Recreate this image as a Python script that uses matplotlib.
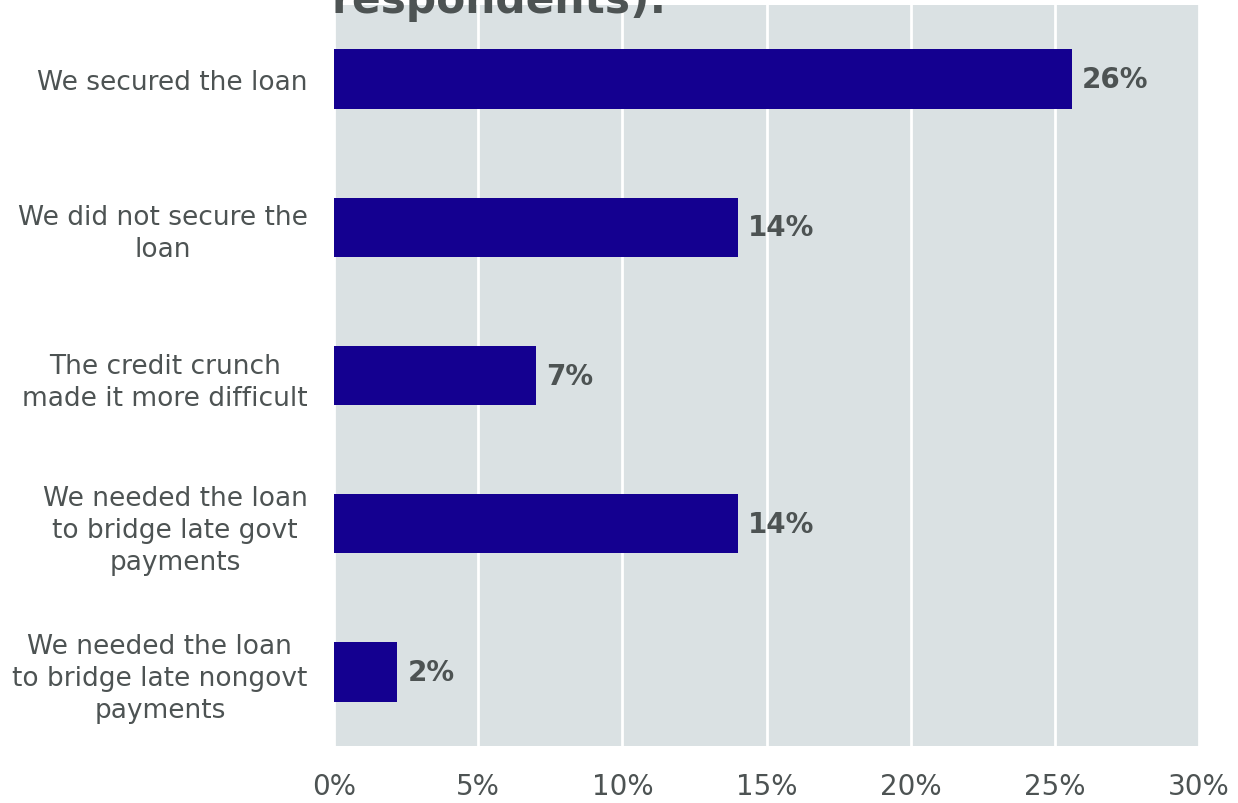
import matplotlib
matplotlib.use("Agg")
import matplotlib.pyplot as plt
from matplotlib.ticker import MultipleLocator, FuncFormatter

plt.rcParams["font.family"] = ["DejaVu Sans"]

categories = [
    "We secured the loan",
    "We did not secure the\nloan",
    "The credit crunch\nmade it more difficult",
    "We needed the loan\nto bridge late govt\npayments",
    "We needed the loan\nto bridge late nongovt\npayments",
]
shares = [25.6, 14.0, 7.0, 14.0, 2.2]

BAR = "#140090"
PANEL = "#dae1e3"
TEXT = "#4d5353"

fig = plt.figure(figsize=(12.38, 8.04), dpi=100)
ax = fig.add_axes([0.2698, 0.0709, 0.6987, 0.9216])
ax.set_facecolor(PANEL)

ypos = list(range(len(categories)))
ax.barh(ypos, shares, height=0.4, color=BAR, zorder=3)
for y, v in zip(ypos, shares):
    ax.text(v + 0.35, y, f"{v:.0f}%", va="center", ha="left",
            fontsize=20, fontweight="bold", color=TEXT, zorder=4)

ax.set_xlim(0, 30)
ax.set_ylim(len(categories) - 0.5, -0.5)
ax.xaxis.set_major_locator(MultipleLocator(5))
ax.xaxis.set_major_formatter(FuncFormatter(lambda x, _: f"{x:.0f}%"))
ax.grid(axis="x", color="white", linewidth=2, zorder=1)
ax.set_axisbelow(True)

ax.set_yticks(ypos)
ax.set_yticklabels(categories, multialignment="center", linespacing=1.3)
ax.tick_params(axis="y", length=0, pad=19, labelsize=19, labelcolor=TEXT)
ax.tick_params(axis="x", length=0, pad=19, labelsize=20, labelcolor=TEXT)
for s in ax.spines.values():
    s.set_visible(False)

# heading runs off the top edge of the canvas
fig.text(0.268, 0.984, "respondents):", fontsize=30.5, fontweight="bold",
         color=TEXT, ha="left", va="baseline")

fig.savefig("out.png", dpi=100)
